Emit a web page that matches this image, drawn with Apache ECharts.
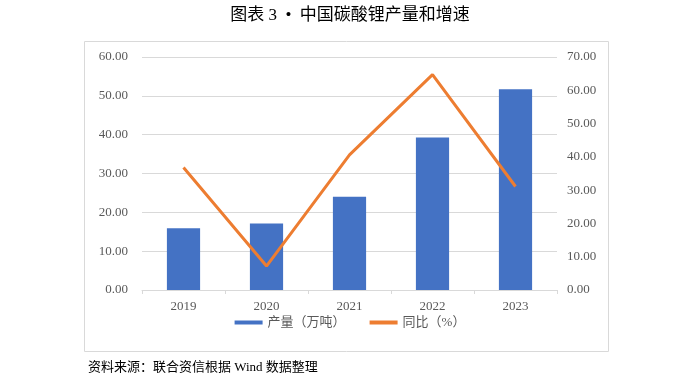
<!DOCTYPE html>
<html><head><meta charset="utf-8">
<script src="https://cdn.jsdelivr.net/npm/echarts@6/dist/echarts.min.js"></script>
<style>html,body{margin:0;padding:0;background:#fff}#c{width:700px;height:380px}</style>
</head><body><div id="c"></div>
<script>
const categories = ['2019','2020','2021','2022','2023'];
const output = [15.9, 17.1, 24.0, 39.3, 51.7];
const growth = [36.8, 7.2, 40.6, 64.7, 31.1];
const leftTicks = {min:0, max:60, interval:10};
const rightTicks = {min:0, max:70, interval:10};
const FONT = "'Liberation Serif','Noto Sans CJK SC',serif";
const chart = echarts.init(document.getElementById('c'));
chart.setOption({
  animation:false,
  textStyle:{fontFamily:FONT},
  title:{text:'图表 3  •  中国碳酸锂产量和增速', left:'center', top:2,
    textStyle:{fontFamily:FONT, fontSize:17, fontWeight:'normal', color:'#000'}},
  graphic:[
    {type:'rect', shape:{x:84.5,y:41.5,width:524,height:310}, style:{fill:'none', stroke:'#d9d9d9', lineWidth:1}, z:-1},
    {type:'text', left:88, top:361, style:{text:'资料来源：联合资信根据 Wind 数据整理', font:"13px 'Liberation Serif','Noto Sans CJK SC',serif", fill:'#000'}}
  ],
  legend:{bottom:46, left:'center', itemGap:24, itemWidth:28, itemHeight:4,
    textStyle:{fontFamily:FONT, fontSize:13, color:'#595959'},
    data:[{name:'产量（万吨）', icon:'rect'},{name:'同比（%）', icon:'rect'}]},
  grid:{left:142, right:143, top:57, bottom:90},
  xAxis:{type:'category', data:categories,
    axisLine:{lineStyle:{color:'#d9d9d9'}},
    axisTick:{show:true, length:4, lineStyle:{color:'#d9d9d9'}},
    axisLabel:{color:'#595959', fontSize:13, margin:10, fontFamily:FONT}},
  yAxis:[
    {type:'value', min:leftTicks.min, max:leftTicks.max, interval:leftTicks.interval,
      axisLabel:{formatter:v=>v.toFixed(2), color:'#595959', fontSize:13, margin:14, fontFamily:FONT},
      splitLine:{lineStyle:{color:'#d9d9d9'}}, axisLine:{show:false}, axisTick:{show:false}},
    {type:'value', min:rightTicks.min, max:rightTicks.max, interval:rightTicks.interval,
      axisLabel:{formatter:v=>v.toFixed(2), color:'#595959', fontSize:13, margin:10, fontFamily:FONT},
      splitLine:{show:false}, axisLine:{show:false}, axisTick:{show:false}}
  ],
  series:[
    {name:'产量（万吨）', type:'bar', data:output, barWidth:'40%', itemStyle:{color:'#4472C4'}},
    {name:'同比（%）', type:'line', yAxisIndex:1, data:growth, symbol:'none',
      lineStyle:{color:'#ED7D31', width:3}, itemStyle:{color:'#ED7D31'}}
  ]
});
</script></body></html>
